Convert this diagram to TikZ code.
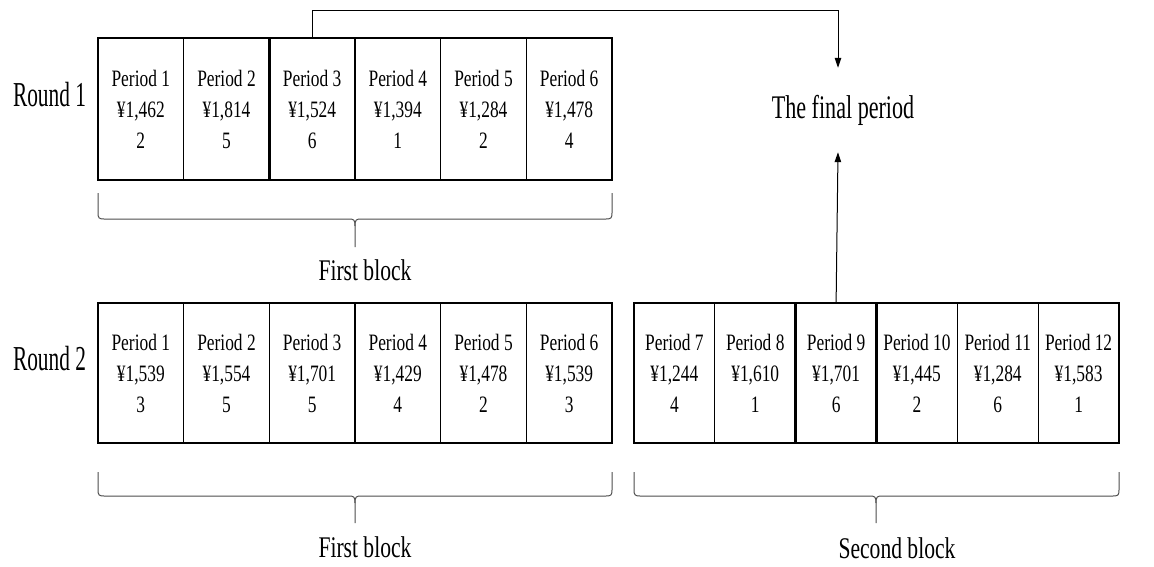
\documentclass[tikz,border=0pt]{standalone}
\usepackage{fontspec}
\setmainfont{Liberation Serif}
\newfontfamily\cellfont[FakeStretch=0.74]{Liberation Serif}
\newfontfamily\roundfont[FakeStretch=0.61]{Liberation Serif}
\newfontfamily\finalfont[FakeStretch=0.67]{Liberation Serif}
\newfontfamily\blockfont[FakeStretch=0.72]{Liberation Serif}
\usetikzlibrary{arrows.meta}
\begin{document}
\begin{tikzpicture}[x=1pt,y=-1pt,
  cell/.style={draw, line width=1.2pt, inner sep=0pt, outer sep=0pt, align=center,
    font=\cellfont\fontsize{23.5}{31}\selectfont},
  cellA/.style={cell, minimum width=85.67pt, minimum height=142pt},
  cellB/.style={cell, minimum width=85.67pt, minimum height=140pt},
  cellC/.style={cell, minimum width=80.83pt, minimum height=140pt},
  hl/.style={draw, line width=2.4pt},
  roundlabel/.style={anchor=base, inner sep=0pt, font=\roundfont\fontsize{35}{40}\selectfont},
  finallabel/.style={inner sep=0pt, minimum height=84pt, font=\finalfont\fontsize{33}{38}\selectfont},
  blocklabel/.style={anchor=base, inner sep=0pt, font=\blockfont\fontsize{30}{36}\selectfont},
  arr/.style={draw=black, line width=1pt, -{Triangle[length=10pt,width=6.5pt]}},
  bracepath/.style={draw=black!70, line width=1pt}
]
\useasboundingbox (0,0) rectangle (1154,566);

% Round 1
\node[cellA] (c11) at (140.8,109) {Period 1\\¥1,462\\2};
\node[cellA] (c12) at (226.5,109) {Period 2\\¥1,814\\5};
\node[cellA] (c13) at (312.2,109) {Period 3\\¥1,524\\6};
\node[cellA] (c14) at (397.8,109) {Period 4\\¥1,394\\1};
\node[cellA] (c15) at (483.5,109) {Period 5\\¥1,284\\2};
\node[cellA] (c16) at (569.2,109) {Period 6\\¥1,478\\4};
\draw[hl] (c13.south west) rectangle (c13.north east);

% Round 2, first block
\node[cellB] (c21) at (140.8,373) {Period 1\\¥1,539\\3};
\node[cellB] (c22) at (226.5,373) {Period 2\\¥1,554\\5};
\node[cellB] (c23) at (312.2,373) {Period 3\\¥1,701\\5};
\node[cellB] (c24) at (397.8,373) {Period 4\\¥1,429\\4};
\node[cellB] (c25) at (483.5,373) {Period 5\\¥1,478\\2};
\node[cellB] (c26) at (569.2,373) {Period 6\\¥1,539\\3};

% Round 2, second block
\node[cellC] (c27) at (674.4,373) {Period 7\\¥1,244\\4};
\node[cellC] (c28) at (755.25,373) {Period 8\\¥1,610\\1};
\node[cellC] (c29) at (836.1,373) {Period 9\\¥1,701\\6};
\node[cellC] (c210) at (916.9,373) {Period 10\\¥1,445\\2};
\node[cellC] (c211) at (997.75,373) {Period 11\\¥1,284\\6};
\node[cellC] (c212) at (1078.6,373) {Period 12\\¥1,583\\1};
\draw[hl] (c29.south west) rectangle (c29.north east);

% labels
\node[roundlabel] (r1) at (49.5,106) {Round 1};
\node[roundlabel] (r2) at (49.5,370) {Round 2};
\node[finallabel] (final) at (843,110) {The final period};
\node[blocklabel] (b1) at (365,280) {First block};
\node[blocklabel] (b2) at (365,557) {First block};
\node[blocklabel] (b3) at (897,558) {Second block};

% arrows
\draw[arr] (c13.north) -- ++(0,-28) -| ([xshift=-5pt]final.north);
\draw[arr] (c29.north) -- ([xshift=-5pt]final.south);

% braces
\newcommand\mybrace[6]{%
  \draw[bracepath] (#1,#4) -- (#1,#5-6) .. controls (#1,#5-1) and (#1+1,#5) .. (#1+6,#5)
    -- (#3-6,#5) .. controls (#3-1,#5) and (#3,#5+1) .. (#3,#5+7) -- (#3,#6);
  \draw[bracepath] (#2,#4) -- (#2,#5-6) .. controls (#2,#5-1) and (#2-1,#5) .. (#2-6,#5)
    -- (#3+6,#5) .. controls (#3+1,#5) and (#3,#5+1) .. (#3,#5+7);
}
\mybrace{98}{612}{355}{193}{219}{247}
\mybrace{98}{612}{355}{472}{496}{523}
\mybrace{634}{1119}{876}{472}{496}{523}
\end{tikzpicture}
\end{document}
